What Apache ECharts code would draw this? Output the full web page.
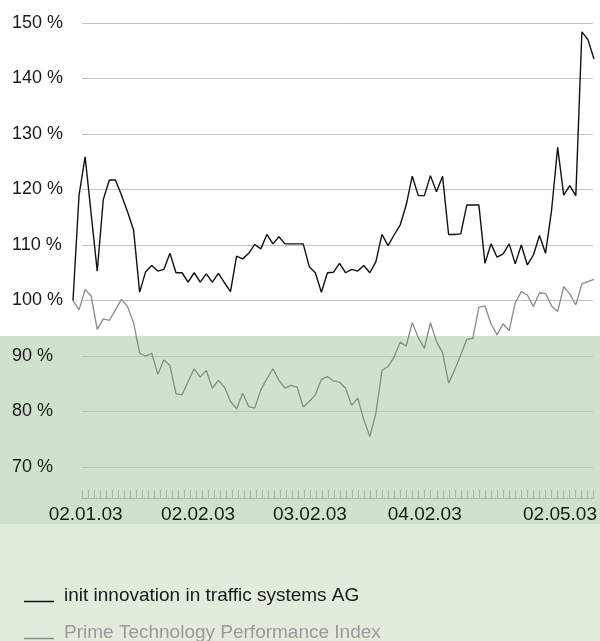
<!DOCTYPE html>
<html>
<head>
<meta charset="utf-8">
<script src="https://cdn.jsdelivr.net/npm/echarts@6/dist/echarts.min.js"></script>
<style>
  html, body { margin: 0; padding: 0; background: #fff; }
  #main { width: 600px; height: 641px; }
</style>
</head>
<body>
<div id="main"></div>
<script>
// 数据
var seriesNames = ['init innovation in traffic systems AG', 'Prime Technology Performance Index'];

var initValues = [
    100, 119, 125.9, 115.6, 105.3, 118.2, 121.7, 121.7, 119, 116,
    112.7, 101.5, 105.2, 106.3, 105.3, 105.6, 108.5, 105, 105, 103.3,
    105, 103.3, 104.8, 103.3, 104.9, 103.2, 101.6, 108, 107.5, 108.5,
    110.1, 109.3, 111.9, 110.2, 111.5, 110.2, 110.2, 110.2, 110.2, 106.1,
    105, 101.5, 105, 105.1, 106.7, 105, 105.6, 105.3, 106.3, 105,
    107, 111.9, 109.9, 111.8, 113.6, 117.2, 122.4, 118.9, 118.9, 122.5,
    119.6, 122.4, 111.9, 111.9, 112, 117.2, 117.2, 117.2, 106.7, 110.2,
    107.8, 108.4, 110.2, 106.6, 110, 106.4, 108.2, 111.7, 108.5, 116.3,
    127.6, 119, 120.7, 118.9, 148.4, 147, 143.5
];

var primeValues = [
    100, 98.3, 102, 100.8, 94.8, 96.7, 96.4, 98.3, 100.2, 98.9,
    96, 90.5, 90, 90.5, 86.7, 89.3, 88.3, 83.2, 83, 85.4,
    87.7, 86.2, 87.4, 84.2, 85.6, 84.4, 81.8, 80.5, 83.3, 80.9,
    80.6, 83.9, 85.9, 87.7, 85.6, 84.2, 84.7, 84.4, 80.8, 81.8,
    83, 85.8, 86.3, 85.5, 85.3, 84.2, 81.1, 82.4, 78.5, 75.5,
    79.7, 87.4, 88.1, 89.8, 92.5, 91.8, 96, 93.3, 91.4, 96,
    92.6, 90.6, 85.1, 87.5, 90.2, 93, 93.2, 98.8, 99, 95.8,
    93.8, 95.8, 94.6, 99.6, 101.6, 101, 98.9, 101.4, 101.3, 99,
    98, 102.5, 101.2, 99.2, 103, 103.4, 103.8
];

// x 轴标签
var dateLabels = ['02.01.03', '02.02.03', '03.02.03', '04.02.03', '02.05.03'];
var dateLabelPos = [0.6, 19.3, 37.9, 57, 79.5];

var yTicks = [70, 80, 90, 100, 110, 120, 130, 140, 150];

var legendColors = ['#1a1a1a', '#9a9a9a'];

var categories = [];
for (var i = 0; i < initValues.length; i++) {
    categories.push(i);
}

var tickValues = [];
for (var t = 0; t <= 85; t++) {
    tickValues.push(t);
}

var fontName = 'Liberation Sans';

// 图例：每项单独一个，便于上下排列
function makeLegend(idx, top) {
    return {
        left: 24,
        top: top,
        padding: 0,
        itemWidth: 30,
        itemHeight: 14,
        icon: 'path://M0,0L30,0L30,0.01L0,0.01Z M0,12L30,12L30,13.4L0,13.4Z',
        lineStyle: { width: 0 },
        textStyle: { fontFamily: fontName, fontSize: 19, color: legendColors[idx], padding: [0, 0, 0, 5] },
        data: [seriesNames[idx]]
    };
}

var option = {
    animation: false,
    backgroundColor: '#fff',
    graphic: [
        { type: 'rect', z: -10, shape: { x: 0, y: 336, width: 600, height: 188 }, style: { fill: '#cfe2cb' } },
        { type: 'rect', z: -10, shape: { x: 0, y: 524, width: 600, height: 117 }, style: { fill: '#e1ecdd' } }
    ],
    legend: [makeLegend(0, 586), makeLegend(1, 623)],
    grid: [
        { left: 82, right: 5, top: 23, bottom: 174 },
        { left: 73, right: 6, top: 23, bottom: 174 }
    ],
    xAxis: [
        {
            type: 'value',
            gridIndex: 0,
            min: 0,
            max: 85,
            interval: 1,
            offset: 31,
            splitLine: { show: false },
            axisLine: { show: true, lineStyle: { color: '#b0b0b0', width: 1 } },
            axisTick: {
                show: true,
                inside: true,
                length: 8,
                customValues: tickValues,
                lineStyle: { color: '#b0b0b0', width: 1 }
            },
            axisLabel: {
                customValues: dateLabelPos,
                margin: 7,
                fontFamily: fontName,
                fontSize: 19,
                color: '#1a1a1a',
                formatter: function (v) {
                    var k = dateLabelPos.indexOf(v);
                    return k >= 0 ? dateLabels[k] : '';
                }
            }
        },
        {
            type: 'category',
            gridIndex: 1,
            data: categories,
            boundaryGap: false,
            show: false
        }
    ],
    yAxis: [
        {
            type: 'value',
            gridIndex: 0,
            min: yTicks[0],
            max: yTicks[yTicks.length - 1],
            interval: 10,
            axisLine: { show: false },
            axisTick: { show: false },
            splitLine: { show: true, lineStyle: { color: '#c2c2c2', width: 1 } },
            axisLabel: {
                align: 'left',
                margin: 70,
                fontFamily: fontName,
                fontSize: 18,
                color: '#1a1a1a',
                formatter: '{value} %'
            }
        },
        {
            type: 'value',
            gridIndex: 1,
            min: yTicks[0],
            max: yTicks[yTicks.length - 1],
            show: false,
            splitLine: { show: false }
        }
    ],
    series: [
        {
            name: seriesNames[0],
            type: 'line',
            xAxisIndex: 1,
            yAxisIndex: 1,
            data: initValues,
            symbol: 'none',
            color: '#111',
            lineStyle: { color: '#111', width: 1.4 },
            z: 4
        },
        {
            name: seriesNames[1],
            type: 'line',
            xAxisIndex: 1,
            yAxisIndex: 1,
            data: primeValues,
            symbol: 'none',
            color: '#8a8a8a',
            lineStyle: { color: '#8a8a8a', width: 1.3 },
            z: 3
        }
    ]
};

window.onload = function () {
    var chart = echarts.init(document.getElementById('main'));
    chart.setOption(option);
};
</script>
</body>
</html>
